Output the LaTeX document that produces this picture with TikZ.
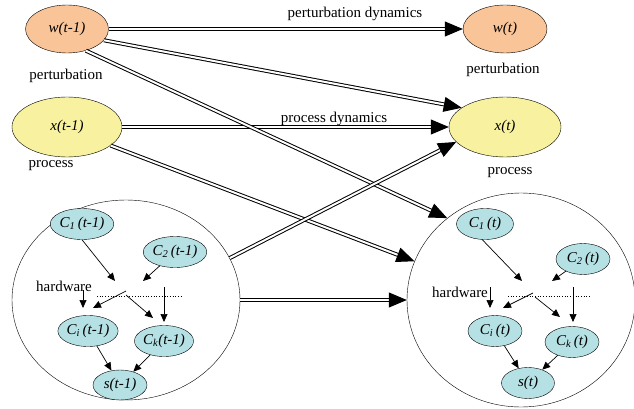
\documentclass[tikz,border=0pt]{standalone}
\usepackage{fontspec}
\setmainfont{Liberation Serif}
\usetikzlibrary{shapes.geometric,arrows.meta}
\definecolor{peach}{RGB}{248,196,152}
\definecolor{lemon}{RGB}{248,242,160}
\definecolor{aqua}{RGB}{181,225,229}
\tikzset{
  var/.style={draw, ellipse, inner sep=0pt, font=\fontsize{15}{18}\selectfont\itshape},
  small/.style={draw, ellipse, fill=aqua, inner sep=0pt, minimum width=55pt, minimum height=31pt, font=\fontsize{15}{18}\selectfont\itshape},
  big/.style={draw, ellipse, inner sep=0pt},
  dyn/.style={double, double distance=2pt, line width=1pt, -{Triangle[length=18pt,width=15pt]}},
  link/.style={line width=0.7pt, -{Triangle[length=8pt,width=7pt]}}
}
\begin{document}
\begin{tikzpicture}[x=1pt,y=-1pt,font=\fontsize{15}{18}\selectfont]
                \useasboundingbox (0,0) rectangle (634,409);
                \node[var, fill=peach, minimum width=83pt, minimum height=48pt] (wprev) at (67,29) {w(t-1)};
                \node[var, fill=lemon, minimum width=110pt, minimum height=60pt] (xprev) at (67,127) {x(t-1)};
                \node[var, fill=peach, minimum width=84pt, minimum height=48pt] (wcur) at (505,29) {w(t)};
                \node[var, fill=lemon, minimum width=112pt, minimum height=60pt] (xcur) at (505,127) {x(t)};
                \node (pertprev) at (66,76) {perturbation};
                \node (procprev) at (51,166) {process};
                \node (pertcur) at (503,70) {perturbation};
                \node (proccur) at (510,173) {process};
                \node[big, minimum width=228pt, minimum height=200pt] (hwprev) at (126,300) {};
                \node[big, minimum width=228pt, minimum height=214pt] (hwcur) at (521,300) {};

                \node (pertdyn) at (355,14) {perturbation dynamics};
                \node (procdyn) at (334,119) {process dynamics};
                \draw[dyn] (wprev) -- (wcur);
                \draw[dyn] (xprev) -- (xcur);
                \draw[dyn] (wprev.-17) -- (xcur.156);
                \draw[dyn] (wprev.-49) -- (hwcur.132);
                \draw[dyn] (xprev.-23) -- (hwcur.160);
                \draw[dyn] (hwprev.22) -- (xcur.-163);
                \draw[dyn] (hwprev) -- (hwcur);

                \node[small] (cone) at (82,224) {C\textsubscript{1}\,(t-1)};
                \node[small, minimum width=57pt] (ctwo) at (175,252) {C\textsubscript{2}\,(t-1)};
                \node[small] (ci) at (88,331) {C\textsubscript{i}\,(t-1)};
                \node[small] (ck) at (164,341) {C\textsubscript{k}(t-1)};
                \node[small, minimum width=54pt, minimum height=30pt] (s) at (120,385) {s(t-1)};
                \node (hwlabel) at (64,286) {hardware};
                \coordinate (ja) at (115,281);
                \coordinate (jb) at (143,281);
                \coordinate (sa) at (126,291);
                \coordinate (sb) at (126,295);
                \coordinate (ta) at (93,308);
                \coordinate (tb) at (153,318);
                \coordinate (va) at (83,290);
                \coordinate (vb) at (83,308);
                \coordinate (vc) at (164,287);
                \coordinate (vd) at (164,322);
                \draw[link] (cone.south) -- (ja);
                \draw[link] (ctwo) -- (jb);
                \draw[link] (sa) -- (ta);
                \draw[link] (sb) -- (tb);
                \draw[link] (va) -- (vb);
                \draw[link] (vc) -- (vd);
                \draw[dotted, line width=0.7pt] (97,296) -- (182,296);
                \draw[link] (ci) -- (s);
                \draw[link] (ck) -- (s);

                \node[small, minimum width=57pt] (conet) at (485,224) {C\textsubscript{1}\,(t)};
                \node[small, minimum width=54pt] (ctwot) at (583,259) {C\textsubscript{2}\,(t)};
                \node[small, minimum width=54pt] (cit) at (495,331) {C\textsubscript{i}\,(t)};
                \node[small, minimum width=54pt] (ckt) at (572,342) {C\textsubscript{k}\,(t)};
                \node[small, minimum width=53pt] (st) at (528,383) {s(t)};
                \node (hwlabelt) at (460,292) {hardware};
                \coordinate (jat) at (522,281);
                \coordinate (jbt) at (552,281);
                \coordinate (sat) at (533,293);
                \coordinate (sbt) at (535,297);
                \coordinate (tat) at (503,308);
                \coordinate (tbt) at (560,317);
                \coordinate (vat) at (490,287);
                \coordinate (vbt) at (490,308);
                \coordinate (vct) at (573,287);
                \coordinate (vdt) at (573,322);
                \draw[link] (conet.-100) -- (jat);
                \draw[link] (ctwot) -- (jbt);
                \draw[link] (sat) -- (tat);
                \draw[link] (sbt) -- (tbt);
                \draw[link] (vat) -- (vbt);
                \draw[link] (vct) -- (vdt);
                \draw[dotted, line width=0.7pt] (508,296) -- (590,296);
                \draw[link] (cit) -- (st);
                \draw[link] (ckt) -- (st);
                \end{tikzpicture}
\end{document}
